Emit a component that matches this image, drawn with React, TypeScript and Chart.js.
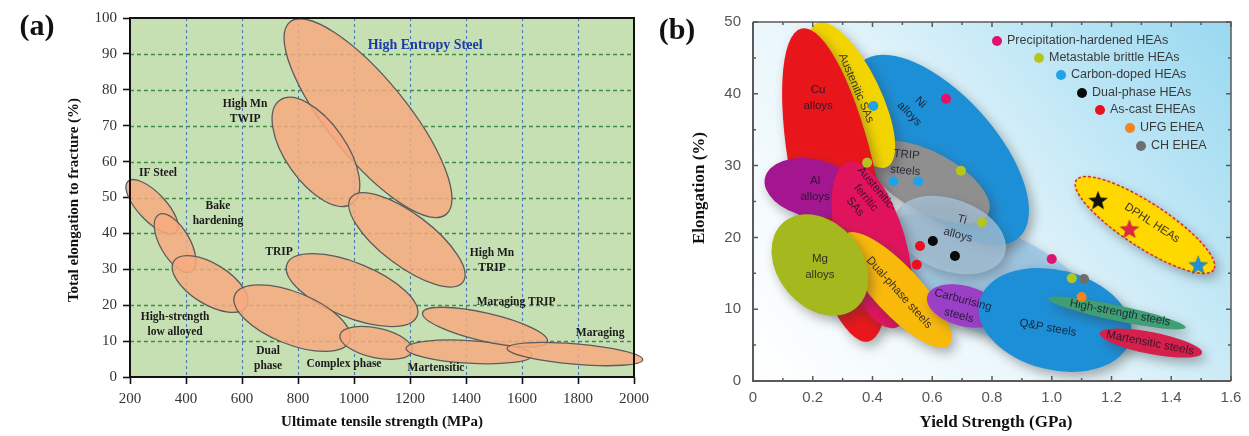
import React, { useEffect, useRef } from 'react';
import { Chart, registerables } from 'chart.js';
Chart.register(...registerables);

// ---------------- Panel (a) data ----------------
const strengthTicksA = [200, 400, 600, 800, 1000, 1200, 1400, 1600, 1800, 2000];
const elongTicksA = [0, 10, 20, 30, 40, 50, 60, 70, 80, 90, 100];

// property ranges: centre (UTS MPa, elongation %), end of long axis, width ratio
const steelRegionsA = [
  { name: 'High Entropy Steel', cx: 1050, cy: 72.1, ex: 1329, ey: 45.3, ratio: 0.32 },
  { name: 'High Mn TWIP', cx: 864, cy: 62.7, ex: 993, ey: 48.3, ratio: 0.48 },
  { name: 'High Mn TRIP', cx: 1189, cy: 38.2, ex: 1389, ey: 26.4, ratio: 0.37 },
  { name: 'TRIP', cx: 993, cy: 24.2, ex: 1225, ey: 16.9, ratio: 0.39 },
  { name: 'IF Steel', cx: 279, cy: 47.4, ex: 365, ey: 40.3, ratio: 0.4 },
  { name: 'Bake hardening', cx: 361, cy: 37.3, ex: 420, ey: 29.4, ratio: 0.45 },
  { name: 'High-strength low alloyed', cx: 486, cy: 25.9, ex: 616, ey: 19.6, ratio: 0.47 },
  { name: 'Dual phase', cx: 779, cy: 16.4, ex: 984, ey: 10.0, ratio: 0.42 },
  { name: 'Complex phase', cx: 1079, cy: 9.5, ex: 1208, ey: 7.3, ratio: 0.4 },
  { name: 'Martensitic', cx: 1411, cy: 7.0, ex: 1636, ey: 6.0, ratio: 0.18 },
  { name: 'Maraging TRIP', cx: 1468, cy: 13.9, ex: 1691, ey: 9.9, ratio: 0.22 },
  { name: 'Maraging', cx: 1789, cy: 6.4, ex: 2031, ey: 4.8, ratio: 0.15 },
];

const steelLabelsA = [
  { lines: ['High Mn', 'TWIP'], x: 611, y: 74.0 },
  { lines: ['IF Steel'], x: 300, y: 56.8 },
  { lines: ['Bake', 'hardening'], x: 514, y: 45.5 },
  { lines: ['TRIP'], x: 732, y: 34.8 },
  { lines: ['High-strength', 'low alloyed'], x: 361, y: 14.6 },
  { lines: ['Dual', 'phase'], x: 693, y: 5.15 },
  { lines: ['Complex phase'], x: 964, y: 3.62 },
  { lines: ['Martensitic'], x: 1293, y: 2.51 },
  { lines: ['High Mn', 'TRIP'], x: 1493, y: 32.45 },
  { lines: ['Maraging TRIP'], x: 1579, y: 20.9 },
  { lines: ['Maraging'], x: 1879, y: 12.3 },
];
const headlineA = { text: 'High Entropy Steel', x: 1254, y: 92.5 };

// ---------------- Panel (b) data ----------------
const yieldTicksB = [0, 0.1, 0.2, 0.3, 0.4, 0.5, 0.6, 0.7, 0.8, 0.9, 1.0, 1.1, 1.2, 1.3, 1.4, 1.5, 1.6];
const elongTicksB = [0, 5, 10, 15, 20, 25, 30, 35, 40, 45, 50];

const alloyRegionsB = [
  { name: 'Ti region', cx: 0.777, cy: 14.07, ex: 1.149, ey: 7.8, ratio: 0.433 },
  { name: 'Ni alloys', cx: 0.626, cy: 32.17, ex: 0.89, ey: 19.96, ratio: 0.47 },
  { name: 'TRIP steels', cx: 0.586, cy: 27.72, ex: 0.787, ey: 23.27, ratio: 0.44 },
  { name: 'Ti alloys', cx: 0.659, cy: 20.33, ex: 0.842, ey: 17.58, ratio: 0.62 },
  { name: 'Austenitic SAs', cx: 0.331, cy: 39.83, ex: 0.449, ey: 29.82, ratio: 0.35 },
  { name: 'Cu alloys', cx: 0.2745, cy: 27.3, ex: 0.386, ey: 5.5, ratio: 0.2625 },
  { name: 'Al alloys', cx: 0.1975, cy: 26.88, ex: 0.355, ey: 25.49, ratio: 0.6 },
  { name: 'Austenitic-ferritic SAs', cx: 0.398, cy: 18.94, ex: 0.478, ey: 7.42, ratio: 0.395 },
  { name: 'Dual-phase steels', cx: 0.482, cy: 12.67, ex: 0.655, ey: 4.93, ratio: 0.316 },
  { name: 'Mg alloys', cx: 0.224, cy: 16.16, ex: 0.345, ey: 10.18, ratio: 0.75 },
  { name: 'Carburising steels', cx: 0.706, cy: 10.45, ex: 0.829, ey: 9.08, ratio: 0.53 },
  { name: 'Q&P steels', cx: 1.011, cy: 8.5, ex: 1.264, ey: 5.86, ratio: 0.64 },
  { name: 'High-strength steels', cx: 1.218, cy: 9.47, ex: 1.448, ey: 7.44, ratio: 0.11 },
  { name: 'Martensitic steels', cx: 1.332, cy: 5.29, ex: 1.503, ey: 3.91, ratio: 0.21 },
  { name: 'DPHL HEAs', cx: 1.312, cy: 21.73, ex: 1.542, ey: 15.5, ratio: 0.27 },
];
const regionColorsB: Record<string, string> = {
  'Ti region': 'rgba(150,198,232,0.75)',
  'Ni alloys': '#1d8fd6',
  'TRIP steels': '#8f8f8f',
  'Ti alloys': 'rgba(168,196,218,0.75)',
  'Austenitic SAs': '#f2d400',
  'Cu alloys': '#e8161b',
  'Al alloys': '#a3168f',
  'Austenitic-ferritic SAs': '#e0135c',
  'Dual-phase steels': '#f9b90a',
  'Mg alloys': '#a5b81e',
  'Carburising steels': '#9b3fc6',
  'Q&P steels': '#1d8fd6',
  'High-strength steels': '#3f9f74',
  'Martensitic steels': '#d6204c',
  'DPHL HEAs': '#ffd800',
};

const regionLabelsB = [
  { lines: ['Cu', 'alloys'], x: 0.218, y: 39.4, rot: 0 },
  { lines: ['Austenitic SAs'], x: 0.345, y: 40.8, rot: 67 },
  { lines: ['Ni', 'alloys'], x: 0.542, y: 38.0, rot: 45 },
  { lines: ['TRIP', 'steels'], x: 0.512, y: 30.4, rot: 5 },
  { lines: ['Al', 'alloys'], x: 0.208, y: 26.8, rot: 0 },
  { lines: ['Austenitic-', 'ferritic', 'SAs'], x: 0.378, y: 25.5, rot: 50 },
  { lines: ['Ti', 'alloys'], x: 0.693, y: 21.4, rot: 15 },
  { lines: ['Mg', 'alloys'], x: 0.224, y: 15.9, rot: 0 },
  { lines: ['Dual-phase steels'], x: 0.489, y: 12.3, rot: 48 },
  { lines: ['Carburising', 'steels'], x: 0.696, y: 10.2, rot: 15 },
  { lines: ['Q&P steels'], x: 0.987, y: 7.4, rot: 10 },
  { lines: ['High-strength steels'], x: 1.229, y: 9.5, rot: 11 },
  { lines: ['Martensitic steels'], x: 1.329, y: 5.3, rot: 11 },
  { lines: ['DPHL HEAs'], x: 1.336, y: 22.0, rot: 33 },
];

const precipitationHardened = [{ x: 0.646, y: 39.3 }, { x: 1.0, y: 17.0 }];
const metastableBrittle = [{ x: 0.382, y: 30.4 }, { x: 0.696, y: 29.3 }, { x: 0.766, y: 22.1 }, { x: 1.067, y: 14.3 }];
const carbonDoped = [{ x: 0.403, y: 38.3 }, { x: 0.47, y: 27.8 }, { x: 0.553, y: 27.8 }];
const dualPhaseHEAs = [{ x: 0.602, y: 19.5 }, { x: 0.676, y: 17.4 }];
const asCastEHEAs = [{ x: 0.559, y: 18.8 }, { x: 0.548, y: 16.2 }];
const ufgEHEA = [{ x: 1.1, y: 11.7 }];
const chEHEA = [{ x: 1.108, y: 14.2 }];
const dphlBlackStar = [{ x: 1.155, y: 25.2 }];
const dphlRedStar = [{ x: 1.26, y: 21.2 }];
const dphlBlueStar = [{ x: 1.49, y: 16.2 }];

const legendSeries = [
  { label: 'Precipitation-hardened HEAs', data: precipitationHardened, color: '#e0126e' },
  { label: 'Metastable brittle HEAs', data: metastableBrittle, color: '#b5c41e' },
  { label: 'Carbon-doped HEAs', data: carbonDoped, color: '#1ea2ea' },
  { label: 'Dual-phase HEAs', data: dualPhaseHEAs, color: '#0a0a0a' },
  { label: 'As-cast EHEAs', data: asCastEHEAs, color: '#ea1020' },
  { label: 'UFG EHEA', data: ufgEHEA, color: '#f28420' },
  { label: 'CH EHEA', data: chEHEA, color: '#6e6e6e' },
];

const SERIF = "'Liberation Serif', 'Times New Roman', serif";
const SANS = "'Liberation Sans', Arial, sans-serif";

function ellipsePath(ctx: CanvasRenderingContext2D, xs: any, ys: any, r: any) {
  const cx = xs.getPixelForValue(r.cx), cy = ys.getPixelForValue(r.cy);
  const ex = xs.getPixelForValue(r.ex), ey = ys.getPixelForValue(r.ey);
  const a = Math.hypot(ex - cx, ey - cy);
  const ang = Math.atan2(ey - cy, ex - cx);
  ctx.beginPath();
  ctx.ellipse(cx, cy, a, a * r.ratio, ang, 0, Math.PI * 2);
}

function drawBlock(ctx: CanvasRenderingContext2D, px: number, py: number, lines: string[], lh: number, rot: number) {
  ctx.save();
  ctx.translate(px, py);
  ctx.rotate((rot * Math.PI) / 180);
  lines.forEach((t, i) => ctx.fillText(t, 0, (i - (lines.length - 1) / 2) * lh));
  ctx.restore();
}

function makeStar(fill: string) {
  const size = 22;
  const c = document.createElement('canvas');
  c.width = size; c.height = size;
  const g = c.getContext('2d')!;
  const R = size / 2 - 1, r = R * 0.42;
  g.beginPath();
  for (let i = 0; i < 10; i++) {
    const ang = -Math.PI / 2 + (i * Math.PI) / 5;
    const rad = i % 2 ? r : R;
    g.lineTo(size / 2 + rad * Math.cos(ang), size / 2 + 1 + rad * Math.sin(ang));
  }
  g.closePath();
  g.fillStyle = fill;
  g.fill();
  g.strokeStyle = 'rgba(0,0,0,0.25)';
  g.lineWidth = 0.8;
  g.stroke();
  return c;
}

const panelAPlugin = {
  id: 'panelA',
  beforeDatasetsDraw(chart: any) {
    const { ctx, chartArea: ca } = chart;
    const xs = chart.scales.x, ys = chart.scales.y;
    ctx.save();
    ctx.fillStyle = '#c6e0b4';
    ctx.fillRect(ca.left, ca.top, ca.right - ca.left, ca.bottom - ca.top);
    ctx.lineWidth = 1.3;
    ctx.setLineDash([4, 3]);
    ctx.strokeStyle = '#3f8f46';
    elongTicksA.forEach((v) => {
      if (v <= 0 || v >= 100) return;
      const p = Math.round(ys.getPixelForValue(v)) + 0.5;
      ctx.beginPath(); ctx.moveTo(ca.left, p); ctx.lineTo(ca.right, p); ctx.stroke();
    });
    ctx.setLineDash([3, 3]);
    ctx.lineWidth = 1.1;
    ctx.strokeStyle = '#4b79b0';
    strengthTicksA.forEach((v) => {
      if (v <= 200 || v >= 2000) return;
      const p = Math.round(xs.getPixelForValue(v)) + 0.5;
      ctx.beginPath(); ctx.moveTo(p, ca.top); ctx.lineTo(p, ca.bottom); ctx.stroke();
    });
    ctx.setLineDash([]);
    steelRegionsA.forEach((r) => {
      ellipsePath(ctx, xs, ys, r);
      ctx.fillStyle = 'rgba(247,170,127,0.85)';
      ctx.fill();
      ctx.strokeStyle = '#5c5c5c';
      ctx.lineWidth = 1.3;
      ctx.stroke();
    });
    ctx.fillStyle = '#1a1a1a';
    ctx.font = `bold 11.5px ${SERIF}`;
    ctx.textAlign = 'center';
    ctx.textBaseline = 'middle';
    steelLabelsA.forEach((l) => drawBlock(ctx, xs.getPixelForValue(l.x), ys.getPixelForValue(l.y), l.lines, 15, 0));
    ctx.fillStyle = '#1b3ca6';
    ctx.font = `bold 14px ${SERIF}`;
    ctx.fillText(headlineA.text, xs.getPixelForValue(headlineA.x), ys.getPixelForValue(headlineA.y));
    ctx.restore();
  },
  afterDraw(chart: any) {
    const { ctx, chartArea: ca } = chart;
    ctx.save();
    ctx.strokeStyle = '#111';
    ctx.lineWidth = 2;
    ctx.strokeRect(ca.left, ca.top, ca.right - ca.left, ca.bottom - ca.top);
    ctx.fillStyle = '#111';
    ctx.textAlign = 'center';
    ctx.textBaseline = 'middle';
    ctx.font = `bold 15px ${SERIF}`;
    ctx.fillText('Ultimate tensile strength (MPa)', (ca.left + ca.right) / 2, 422);
    ctx.save();
    ctx.translate(74, 200);
    ctx.rotate(-Math.PI / 2);
    ctx.fillText('Total elongation to fracture (%)', 0, 0);
    ctx.restore();
    ctx.font = `bold 30px ${SERIF}`;
    ctx.fillText('(a)', 37, 27);
    ctx.restore();
  },
};

const panelBPlugin = {
  id: 'panelB',
  beforeDatasetsDraw(chart: any) {
    const { ctx, chartArea: ca } = chart;
    const xs = chart.scales.x, ys = chart.scales.y;
    ctx.save();
    const g = ctx.createLinearGradient(ca.left, ca.bottom, ca.right, ca.top);
    g.addColorStop(0, '#ffffff');
    g.addColorStop(0.45, '#e6f5fb');
    g.addColorStop(1, '#98d8f0');
    ctx.fillStyle = g;
    ctx.fillRect(ca.left, ca.top, ca.right - ca.left, ca.bottom - ca.top);
    ctx.beginPath();
    ctx.rect(ca.left, ca.top, ca.right - ca.left, ca.bottom - ca.top);
    ctx.clip();
    alloyRegionsB.forEach((r) => {
      ctx.save();
      ctx.shadowColor = 'rgba(50,50,50,0.4)';
      ctx.shadowBlur = 12;
      ctx.shadowOffsetX = 4;
      ctx.shadowOffsetY = 5;
      ellipsePath(ctx, xs, ys, r);
      ctx.fillStyle = regionColorsB[r.name];
      ctx.fill();
      ctx.restore();
      if (r.name === 'DPHL HEAs') {
        ellipsePath(ctx, xs, ys, r);
        ctx.setLineDash([3, 2]);
        ctx.strokeStyle = '#e0302a';
        ctx.lineWidth = 1.6;
        ctx.stroke();
        ctx.setLineDash([]);
      }
    });
    ctx.fillStyle = 'rgba(25,20,40,0.85)';
    ctx.font = `11.5px ${SANS}`;
    ctx.textAlign = 'center';
    ctx.textBaseline = 'middle';
    regionLabelsB.forEach((l) =>
      drawBlock(ctx, xs.getPixelForValue(l.x), ys.getPixelForValue(l.y), l.lines, l.lines.length > 2 ? 14 : 16, l.rot)
    );
    ctx.restore();
  },
  afterDraw(chart: any) {
    const { ctx, chartArea: ca } = chart;
    const xs = chart.scales.x, ys = chart.scales.y;
    ctx.save();
    ctx.strokeStyle = '#5a5a5a';
    ctx.lineWidth = 1.5;
    ctx.beginPath();
    ctx.moveTo(ca.left, ca.top); ctx.lineTo(ca.right, ca.top); ctx.lineTo(ca.right, ca.bottom);
    ctx.stroke();
    ctx.lineWidth = 2;
    ctx.beginPath();
    ctx.moveTo(ca.left, ca.top); ctx.lineTo(ca.left, ca.bottom); ctx.lineTo(ca.right, ca.bottom);
    ctx.stroke();
    ctx.lineWidth = 1.5;
    yieldTicksB.forEach((v) => {
      const major = Math.round(v * 10) % 2 === 0;
      const len = major ? 5 : 3;
      const p = xs.getPixelForValue(v);
      ctx.beginPath();
      ctx.moveTo(p, ca.bottom); ctx.lineTo(p, ca.bottom - len);
      ctx.moveTo(p, ca.top); ctx.lineTo(p, ca.top + len);
      ctx.stroke();
    });
    elongTicksB.forEach((v) => {
      const major = v % 10 === 0;
      const len = major ? 5 : 3;
      const p = ys.getPixelForValue(v);
      ctx.beginPath();
      ctx.moveTo(ca.left, p); ctx.lineTo(ca.left + len, p);
      ctx.moveTo(ca.right, p); ctx.lineTo(ca.right - len, p);
      ctx.stroke();
    });
    // legend
    const spots = [[357, 41], [399, 58], [421, 75], [442, 93], [460, 110], [490, 128], [501, 146]];
    ctx.font = `12.5px ${SANS}`;
    ctx.textAlign = 'left';
    ctx.textBaseline = 'middle';
    chart.data.datasets.slice(0, legendSeries.length).forEach((ds: any, i: number) => {
      const [lx, ly] = spots[i];
      ctx.beginPath();
      ctx.arc(lx, ly, 5, 0, Math.PI * 2);
      ctx.fillStyle = ds.backgroundColor;
      ctx.fill();
      ctx.fillStyle = '#3a3a3a';
      ctx.fillText(ds.label, lx + 10, ly);
    });
    // titles
    ctx.fillStyle = '#111';
    ctx.textAlign = 'center';
    ctx.font = `bold 17px ${SERIF}`;
    ctx.fillText('Yield Strength (GPa)', 356, 423);
    ctx.save();
    ctx.translate(60, 188);
    ctx.rotate(-Math.PI / 2);
    ctx.fillText('Elongation (%)', 0, 0);
    ctx.restore();
    ctx.font = `bold 30px ${SERIF}`;
    ctx.fillText('(b)', 37, 31);
    ctx.restore();
  },
};

function fixAxis(size: number, vertical: boolean) {
  return (s: any) => {
    if (vertical) s.width = size; else s.height = size;
    s.paddingLeft = 0; s.paddingRight = 0; s.paddingTop = 0; s.paddingBottom = 0;
  };
}

export default function App() {
  const refA = useRef<HTMLCanvasElement>(null);
  const refB = useRef<HTMLCanvasElement>(null);

  useEffect(() => {
    const chartA = new Chart(refA.current!, {
      type: 'scatter',
      data: { datasets: [{ data: steelRegionsA.map((r) => ({ x: r.cx, y: r.cy })), pointRadius: 0 }] },
      options: {
        responsive: false,
        animation: false,
        devicePixelRatio: 1,
        layout: { padding: { top: 18, right: 46, left: 0, bottom: 0 } },
        plugins: { legend: { display: false }, tooltip: { enabled: false } },
        scales: {
          x: {
            type: 'linear', min: 200, max: 2000,
            afterBuildTicks: (s: any) => { s.ticks = strengthTicksA.map((v) => ({ value: v })); },
            afterFit: fixAxis(59, false),
            border: { display: false },
            grid: { display: true, drawOnChartArea: false, drawTicks: true, tickLength: 7, tickColor: '#111', tickWidth: 1.6 },
            ticks: { autoSkip: false, maxRotation: 0, padding: 6, color: '#333', font: { family: SERIF, size: 15 }, callback: (v: any) => String(v) },
          },
          y: {
            type: 'linear', min: 0, max: 100,
            afterBuildTicks: (s: any) => { s.ticks = elongTicksA.map((v) => ({ value: v })); },
            afterFit: fixAxis(130, true),
            border: { display: false },
            grid: { display: true, drawOnChartArea: false, drawTicks: true, tickLength: 7, tickColor: '#111', tickWidth: 1.6 },
            ticks: { autoSkip: false, padding: 6, color: '#333', font: { family: SERIF, size: 15 }, callback: (v: any) => String(v) },
          },
        },
      } as any,
      plugins: [panelAPlugin],
    });

    const starDs = (data: any[], fill: string) => ({
      data, pointStyle: makeStar(fill), pointRadius: 11, backgroundColor: fill, borderWidth: 0,
    });

    const chartB = new Chart(refB.current!, {
      type: 'scatter',
      data: {
        datasets: [
          ...legendSeries.map((s) => ({
            label: s.label, data: s.data, backgroundColor: s.color, borderColor: s.color,
            pointRadius: 5, borderWidth: 0,
          })),
          starDs(dphlBlackStar, '#111111'),
          starDs(dphlRedStar, '#e8204a'),
          starDs(dphlBlueStar, '#1e90e0'),
        ],
      },
      options: {
        responsive: false,
        animation: false,
        devicePixelRatio: 1,
        layout: { padding: { top: 22, right: 18, left: 0, bottom: 0 } },
        plugins: { legend: { display: false }, tooltip: { enabled: false } },
        scales: {
          x: {
            type: 'linear', min: 0, max: 1.6,
            afterBuildTicks: (s: any) => { s.ticks = yieldTicksB.map((v) => ({ value: v })); },
            afterFit: fixAxis(55, false),
            border: { display: false },
            grid: { display: false, drawTicks: false },
            ticks: {
              autoSkip: false, maxRotation: 0, padding: 8, color: '#555', font: { family: SANS, size: 15 },
              callback: (v: any) => (Math.round(v * 10) % 2 === 0 ? (v === 0 ? '0' : Number(v).toFixed(1)) : ''),
            },
          },
          y: {
            type: 'linear', min: 0, max: 50,
            afterBuildTicks: (s: any) => { s.ticks = elongTicksB.map((v) => ({ value: v })); },
            afterFit: fixAxis(113, true),
            border: { display: false },
            grid: { display: false, drawTicks: false },
            ticks: {
              autoSkip: false, padding: 12, color: '#555', font: { family: SANS, size: 15 },
              callback: (v: any) => (v % 10 === 0 ? String(v) : ''),
            },
          },
        },
      } as any,
      plugins: [panelBPlugin],
    });

    return () => { chartA.destroy(); chartB.destroy(); };
  }, []);

  return (
    <div style={{ position: 'absolute', left: 0, top: 0, width: 1249, height: 436, background: '#fff', overflow: 'hidden' }}>
      <canvas ref={refA} width={680} height={436} style={{ position: 'absolute', left: 0, top: 0, width: 680, height: 436 }} />
      <canvas ref={refB} width={609} height={436} style={{ position: 'absolute', left: 640, top: 0, width: 609, height: 436 }} />
    </div>
  );
}
